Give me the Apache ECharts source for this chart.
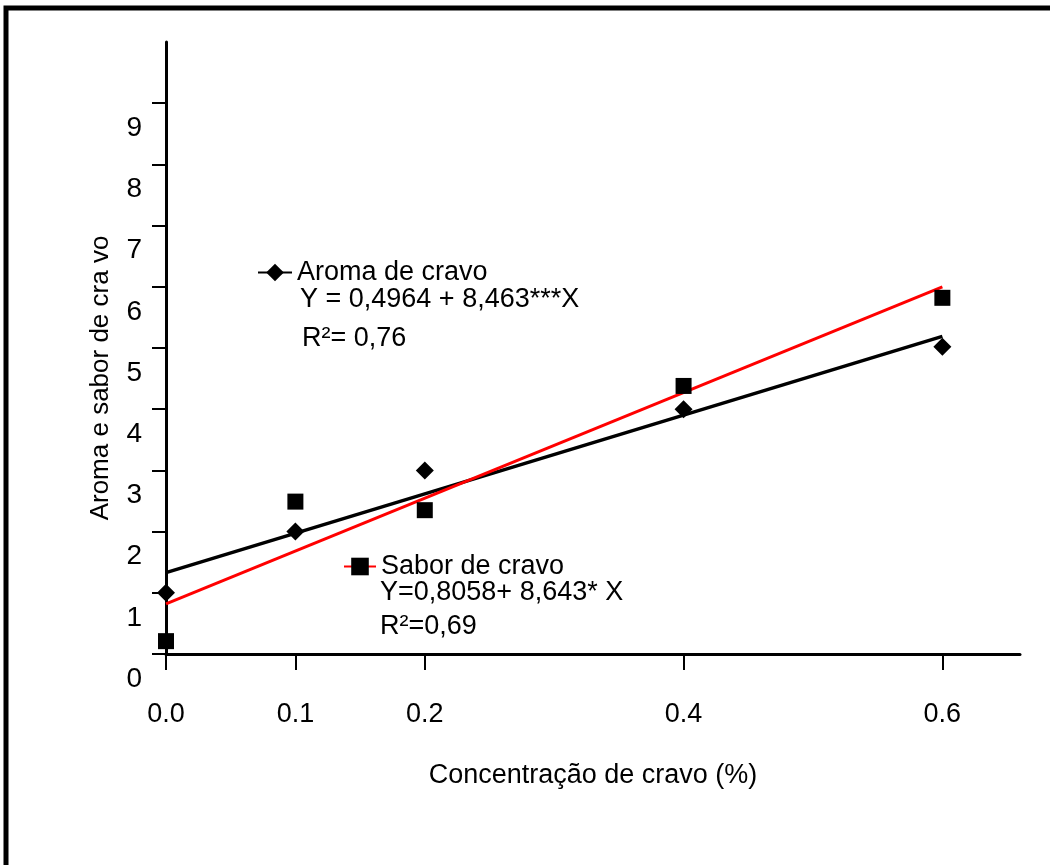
<!DOCTYPE html>
<html>
<head>
<meta charset="utf-8">
<title>Aroma e sabor de cravo</title>
<script src="https://cdn.jsdelivr.net/npm/echarts@6/dist/echarts.min.js"></script>
<style>
  html, body { margin: 0; padding: 0; background: #fff; }
  #chart-wrapper { width: 1050px; height: 865px; }
</style>
</head>
<body>
<div id="chart-wrapper"></div>
<script>
// data
const concentracao = [0, 0.1, 0.2, 0.4, 0.6];
const aroma = [1.0, 2.0, 3.0, 4.0, 5.02];
const sabor = [0.21, 2.49, 2.35, 4.38, 5.82];
// trend line ends (x = 0 and x = 0.6) as drawn
const trendX = [0, 0.6];
const aromaTrend = [1.33, 5.19];
const saborTrend = [0.82, 6.0];
const xTicks = [0, 0.1, 0.2, 0.4, 0.6];
const yTicks = [0, 1, 2, 3, 4, 5, 6, 7, 8, 9];

const font = "'Liberation Sans', Arial, sans-serif";
const pairs = (xs, ys) => xs.map((x, i) => [x, ys[i]]);

const chartDom = document.getElementById("chart-wrapper");
const chart = echarts.init(chartDom, null, { renderer: "canvas" });

const option = {
  backgroundColor: "#fff",
  animation: false,
  textStyle: { fontFamily: font, color: "#000" },
  grid: {
    left: 166,
    right: 30,
    top: 42,
    bottom: 211,
    containLabel: false,
    outerBoundsMode: "none",
  },
  xAxis: {
    type: "value",
    min: 0,
    max: 0.66,
    name: "Concentração de cravo (%)",
    nameLocation: "middle",
    nameGap: 108,
    nameTextStyle: { fontSize: 27, color: "#000", fontFamily: font },
    axisLine: { show: true, onZero: false, lineStyle: { color: "#000", width: 3 } },
    axisTick: {
      show: true,
      customValues: xTicks,
      length: 16,
      lineStyle: { color: "#000", width: 2 },
    },
    axisLabel: {
      customValues: xTicks,
      margin: 47,
      fontSize: 27,
      color: "#000",
      fontFamily: font,
      formatter: (v) => v.toFixed(1),
    },
    splitLine: { show: false },
  },
  yAxis: {
    type: "value",
    min: 0,
    max: 10,
    name: "Aroma e sabor de cra vo",
    nameLocation: "middle",
    nameGap: 52,
    nameRotate: 90,
    nameTextStyle: {
      fontSize: 26,
      color: "#000",
      fontFamily: font,
      padding: [0, 60, 0, 0],
    },
    axisLine: { show: true, onZero: false, lineStyle: { color: "#000", width: 3 } },
    axisTick: {
      show: true,
      customValues: yTicks,
      length: 14,
      lineStyle: { color: "#000", width: 2 },
    },
    axisLabel: {
      customValues: yTicks,
      margin: 24,
      fontSize: 28,
      color: "#000",
      fontFamily: font,
      verticalAlign: "top",
      lineHeight: 50,
    },
    splitLine: { show: false },
  },
  legend: [
    {
      left: 257,
      top: 259,
      padding: 0,
      itemWidth: 34,
      itemHeight: 22,
      data: ["Aroma de cravo"],
      textStyle: { fontSize: 27, color: "#000", fontFamily: font },
      selectedMode: false,
    },
    {
      left: 343,
      top: 553,
      padding: 0,
      itemWidth: 32,
      itemHeight: 22,
      data: ["Sabor de cravo"],
      textStyle: { fontSize: 27, color: "#000", fontFamily: font },
      selectedMode: false,
    },
  ],
  graphic: [
    // frame of the figure
    {
      type: "polyline",
      shape: { points: [[6, 865], [6, 8], [1050, 8]] },
      style: { stroke: "#000", lineWidth: 5, fill: null },
      silent: true,
    },
    {
      type: "text",
      x: 300,
      y: 300,
      style: { text: "Y = 0,4964 + 8,463***X", font: "27px " + font, fill: "#000", verticalAlign: "middle" },
    },
    {
      type: "text",
      x: 302,
      y: 339,
      style: { text: "R²= 0,76", font: "27px " + font, fill: "#000", verticalAlign: "middle" },
    },
    {
      type: "text",
      x: 380,
      y: 593,
      style: { text: "Y=0,8058+ 8,643* X", font: "27px " + font, fill: "#000", verticalAlign: "middle" },
    },
    {
      type: "text",
      x: 380,
      y: 627,
      style: { text: "R²=0,69", font: "27px " + font, fill: "#000", verticalAlign: "middle" },
    },
  ],
  series: [
    {
      name: "Aroma de cravo",
      type: "line",
      data: pairs(trendX, aromaTrend),
      symbol: "diamond",
      showSymbol: false,
      itemStyle: { color: "#000" },
      lineStyle: { color: "#000", width: 3.5 },
      z: 2,
    },
    {
      name: "Sabor de cravo",
      type: "line",
      data: pairs(trendX, saborTrend),
      symbol: "rect",
      showSymbol: false,
      itemStyle: { color: "#000" },
      lineStyle: { color: "#ff0000", width: 3 },
      z: 2,
    },
    {
      name: "aroma-pontos",
      type: "scatter",
      data: pairs(concentracao, aroma),
      symbol: "diamond",
      symbolSize: 18,
      itemStyle: { color: "#000", opacity: 1 },
      z: 5,
    },
    {
      name: "sabor-pontos",
      type: "scatter",
      data: pairs(concentracao, sabor),
      symbol: "rect",
      symbolSize: 16,
      itemStyle: { color: "#000", opacity: 1 },
      z: 5,
    },
  ],
};

option && chart.setOption(option);
</script>
</body>
</html>
